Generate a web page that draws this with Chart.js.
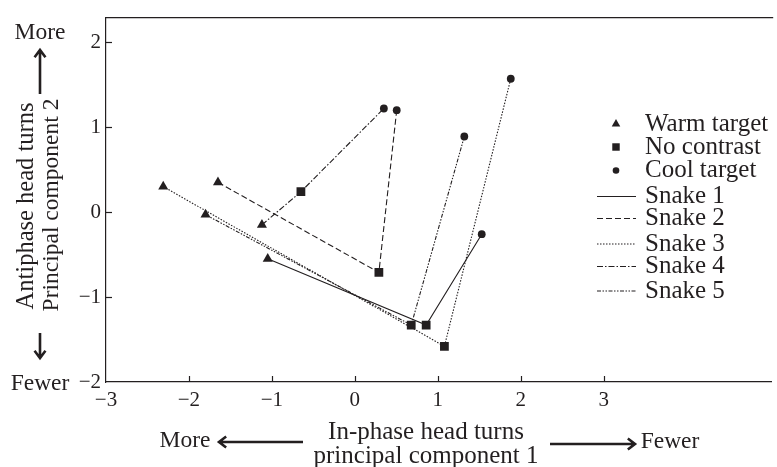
<!DOCTYPE html>
<html>
<head>
<meta charset="utf-8">
<script src="https://cdn.jsdelivr.net/npm/chart.js@4/dist/chart.umd.min.js"></script>
<style>
html,body{margin:0;padding:0;background:#ffffff;}
#wrap{width:777px;height:467px;}
</style>
</head>
<body>
<div id="wrap"><canvas id="c" width="777" height="467"></canvas></div>
<script>
// ---- data ----
const snakeNames = ['Snake 1', 'Snake 2', 'Snake 3', 'Snake 4', 'Snake 5'];
const conditionNames = ['Warm target', 'No contrast', 'Cool target'];
const warmX = [-1.05, -1.65, -2.31, -1.12, -1.80];
const warmY = [-0.55, 0.35, 0.30, -0.15, -0.03];
const noneX = [0.86, 0.29, 1.08, -0.65, 0.68];
const noneY = [-1.33, -0.71, -1.58, 0.24, -1.33];
const coolX = [1.53, 0.505, 1.88, 0.35, 1.32];
const coolY = [-0.26, 1.20, 1.57, 1.22, 0.89];
const xTicks = [-3, -2, -1, 0, 1, 2, 3];
const yTicks = [-2, -1, 0, 1, 2];

// ---- styles ----
const INK = '#231f20';
const FONT = '"Liberation Serif", "Times New Roman", serif';
const dashes = [[], [6, 3], [1.5, 1.5], [6, 2, 1.5, 2], [4, 1.5, 1.5, 1.5, 1.5, 1.5]];
const markerStyles = ['triangle', 'rect', 'circle'];
const markerRadii = [5.8, 6.2, 3.9];

const datasets = snakeNames.map((name, i) => ({
  label: name,
  data: [
    {x: warmX[i], y: warmY[i]},
    {x: noneX[i], y: noneY[i]},
    {x: coolX[i], y: coolY[i]}
  ],
  showLine: true,
  tension: 0,
  borderColor: INK,
  borderWidth: 1.1,
  borderDash: dashes[i],
  backgroundColor: INK,
  pointBackgroundColor: INK,
  pointBorderColor: INK,
  pointBorderWidth: 0,
  pointStyle: ctx => markerStyles[ctx.dataIndex],
  pointRadius: ctx => markerRadii[ctx.dataIndex],
  pointHoverRadius: ctx => markerRadii[ctx.dataIndex]
}));

function arrow(ctx, x1, y1, x2, y2) {
  const ang = Math.atan2(y2 - y1, x2 - x1);
  const L = 9, W = 0.65;
  ctx.beginPath();
  ctx.moveTo(x1, y1);
  ctx.lineTo(x2, y2);
  ctx.moveTo(x2 - L * Math.cos(ang - W), y2 - L * Math.sin(ang - W));
  ctx.lineTo(x2, y2);
  ctx.lineTo(x2 - L * Math.cos(ang + W), y2 - L * Math.sin(ang + W));
  ctx.stroke();
}

const decor = {
  id: 'decor',
  afterDraw(chart) {
    const ctx = chart.ctx;
    const a = chart.chartArea;
    const xs = chart.scales.x, ys = chart.scales.y;
    ctx.save();
    ctx.strokeStyle = INK;
    ctx.fillStyle = INK;
    ctx.setLineDash([]);
    // top frame line
    ctx.lineWidth = 1.2;
    ctx.beginPath();
    ctx.moveTo(a.left, a.top);
    ctx.lineTo(a.right + 2, a.top);
    ctx.stroke();
    // inward tick marks
    xTicks.forEach(v => {
      if (v === xs.min) return;
      const px = Math.round(xs.getPixelForValue(v)) + 0.5;
      ctx.beginPath();
      ctx.moveTo(px, a.bottom);
      ctx.lineTo(px, a.bottom - 6);
      ctx.stroke();
    });
    yTicks.forEach(v => {
      if (v === ys.min) return;
      const py = Math.round(ys.getPixelForValue(v)) + 0.5;
      ctx.beginPath();
      ctx.moveTo(a.left, py);
      ctx.lineTo(a.left + 6, py);
      ctx.stroke();
    });

    // axis titles
    ctx.textAlign = 'center';
    ctx.textBaseline = 'middle';
    ctx.font = '25px ' + FONT;
    ctx.fillText('In-phase head turns', 426, 432);
    ctx.fillText('principal component 1', 426, 456);
    ctx.font = '23.5px ' + FONT;
    ctx.fillText('More', 185, 441);
    ctx.fillText('Fewer', 670, 442);
    ctx.lineWidth = 2.6;
    arrow(ctx, 303, 442, 219, 442);
    arrow(ctx, 550, 444, 635, 444);

    ctx.save();
    ctx.font = '24.5px ' + FONT;
    ctx.translate(27, 206);
    ctx.rotate(-Math.PI / 2);
    ctx.fillText('Antiphase head turns', 0, 0);
    ctx.restore();
    ctx.save();
    ctx.font = '23.5px ' + FONT;
    ctx.translate(52, 205);
    ctx.rotate(-Math.PI / 2);
    ctx.fillText('Principal component 2', 0, 0);
    ctx.restore();
    ctx.font = '23.5px ' + FONT;
    ctx.fillText('More', 40, 33);
    ctx.fillText('Fewer', 40, 384);
    arrow(ctx, 40, 94, 40, 50);
    arrow(ctx, 40, 333, 40, 358);

    // legend
    const legendRowsMarkers = [124, 147, 170.5];
    const legendRowsLines = [196.5, 218.5, 244, 266.5, 291];
    ctx.font = '25px ' + FONT;
    ctx.textAlign = 'left';
    conditionNames.forEach((name, k) => {
      const y = legendRowsMarkers[k];
      Chart.helpers.drawPoint(ctx, {pointStyle: markerStyles[k], radius: markerRadii[k] * 0.85, borderWidth: 0}, 616, y);
      ctx.fillStyle = INK;
      ctx.fillText(name, 645, y);
    });
    ctx.lineWidth = 1.1;
    snakeNames.forEach((name, k) => {
      const y = legendRowsLines[k];
      ctx.setLineDash(dashes[k]);
      ctx.beginPath();
      ctx.moveTo(597, y);
      ctx.lineTo(636, y);
      ctx.stroke();
      ctx.setLineDash([]);
      ctx.fillText(name, 645, y);
    });
    ctx.restore();
  }
};

new Chart(document.getElementById('c'), {
  type: 'scatter',
  data: {datasets},
  options: {
    responsive: false,
    animation: false,
    events: [],
    layout: {padding: {top: 12, left: 0, right: 0, bottom: 0}},
    plugins: {legend: {display: false}, tooltip: {enabled: false}},
    scales: {
      x: {
        type: 'linear', min: -3, max: 5.02,
        afterBuildTicks: s => { s.ticks = xTicks.map(v => ({value: v})); },
        afterFit: s => { s.height = 85; },
        grid: {display: false, drawTicks: false},
        border: {display: true, color: INK, width: 1.2},
        ticks: {color: INK, font: {family: FONT, size: 21}, padding: 6, maxRotation: 0, autoSkip: false,
                callback: v => String(v).replace('-', '\u2212')}
      },
      y: {
        type: 'linear', min: -2, max: 2.29,
        afterBuildTicks: s => { s.ticks = yTicks.map(v => ({value: v})); },
        afterFit: s => { s.width = 106; },
        grid: {display: false, drawTicks: false},
        border: {display: true, color: INK, width: 1.2},
        ticks: {color: INK, font: {family: FONT, size: 21}, padding: 5, autoSkip: false,
                callback: v => String(v).replace('-', '\u2212')}
      }
    }
  },
  plugins: [decor]
});
</script>
</body>
</html>
